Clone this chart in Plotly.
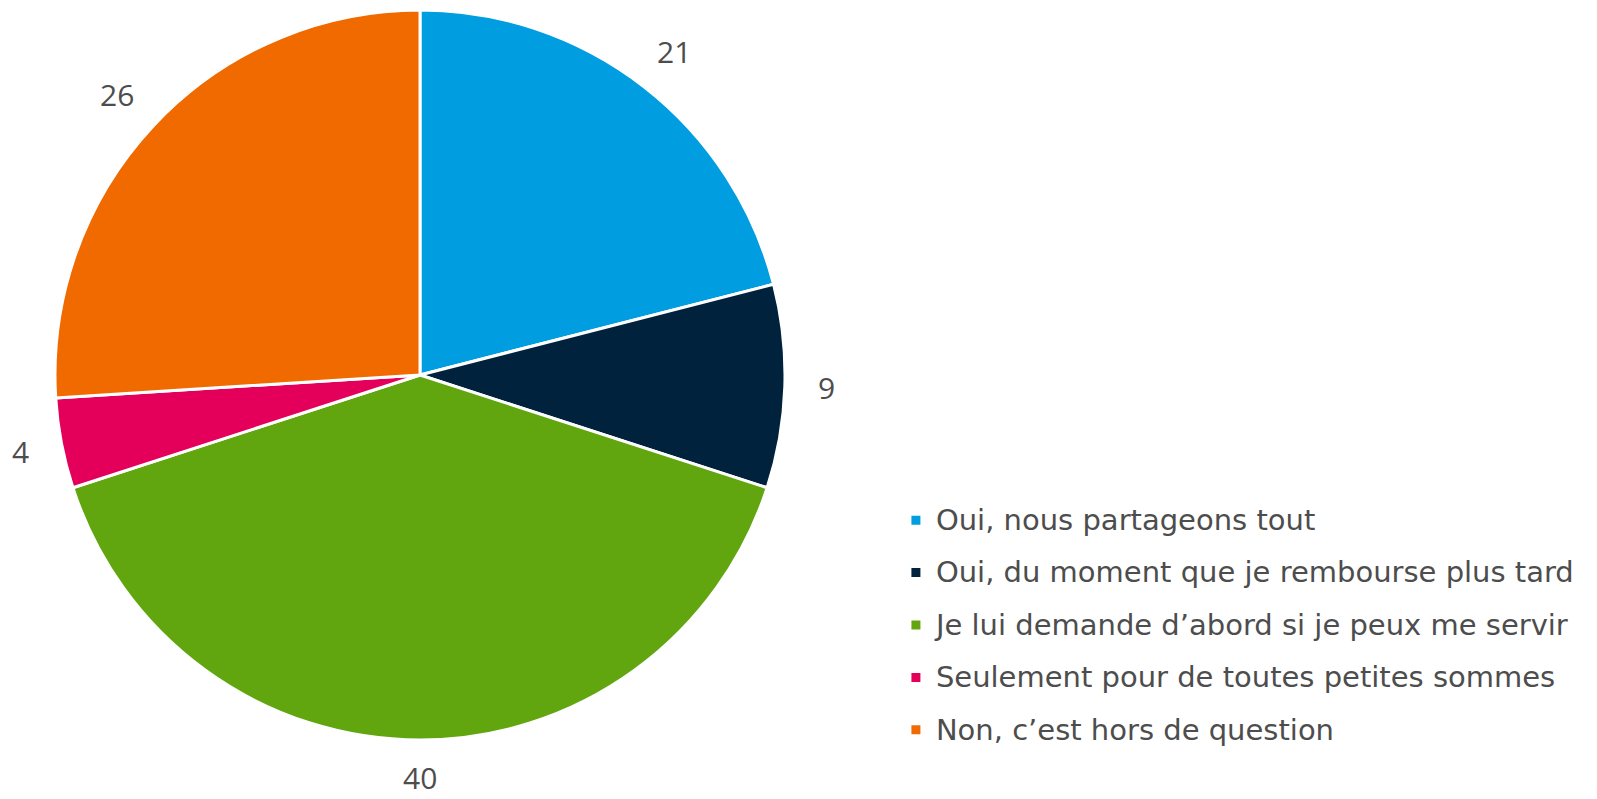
import math
import plotly.graph_objects as go

# Survey answers and shares (%)
categories = [
    "Oui, nous partageons tout",
    "Oui, du moment que je rembourse plus tard",
    "Je lui demande d\u2019abord si je peux me servir",
    "Seulement pour de toutes petites sommes",
    "Non, c\u2019est hors de question",
]
values = [21, 9, 40, 4, 26]
colors = ["#009EE0", "#00223D", "#61A60E", "#E4005A", "#F06A00"]

W, H = 1597, 799
CX, CY, R = 420, 375, 365  # pie centre and radius in pixels
LABEL_GAP = 398            # distance from centre to the inner edge of a value label
DIGIT_W, LABEL_H = 17, 24  # approximate label glyph box
LABEL_FONT = "Open Sans"
LEGEND_FONT = "DejaVu Sans"
TEXT_COLOR = "#4D4D4D"

# Legend rows are spaced by the legend font size; the visible text size is set inline
legend_names = [
    '<span style="font-size:29px;baseline-shift:5px">%s</span>' % c for c in categories
]

fig = go.Figure(
    go.Pie(
        labels=legend_names,
        values=values,
        sort=False,
        direction="clockwise",
        rotation=0,
        marker=dict(colors=colors, line=dict(color="white", width=3)),
        textinfo="none",
        hoverinfo="label+value",
        domain=dict(
            x=[(CX - R) / W, (CX + R) / W],
            y=[(H - CY - R) / H, (H - CY + R) / H],
        ),
    )
)

# Value labels placed outside each slice, at the slice's mid-angle
total = sum(values)
cum = 0
for v in values:
    mid = (cum + v / 2) / total * 2 * math.pi
    cum += v
    half_w = DIGIT_W * len(str(v)) / 2
    px = CX + (LABEL_GAP + half_w) * math.sin(mid)
    py = CY - (LABEL_GAP + LABEL_H / 2) * math.cos(mid)
    py = min(py, H - 22)  # keep inside the page
    fig.add_annotation(
        x=px / W, y=1 - py / H, xref="paper", yref="paper",
        text=str(v), showarrow=False,
        font=dict(family=LABEL_FONT, size=30, color=TEXT_COLOR),
        xanchor="center", yanchor="middle",
    )

fig.update_layout(
    width=W, height=H,
    margin=dict(l=0, r=0, t=0, b=0),
    paper_bgcolor="white",
    plot_bgcolor="white",
    font=dict(family=LEGEND_FONT, color=TEXT_COLOR),
    showlegend=True,
    legend=dict(
        x=0.561, y=0.388, xanchor="left", yanchor="top",
        font=dict(family=LEGEND_FONT, size=38, color=TEXT_COLOR),
        itemwidth=30,
        tracegroupgap=0,
    ),
)

fig.write_html("out.html")
